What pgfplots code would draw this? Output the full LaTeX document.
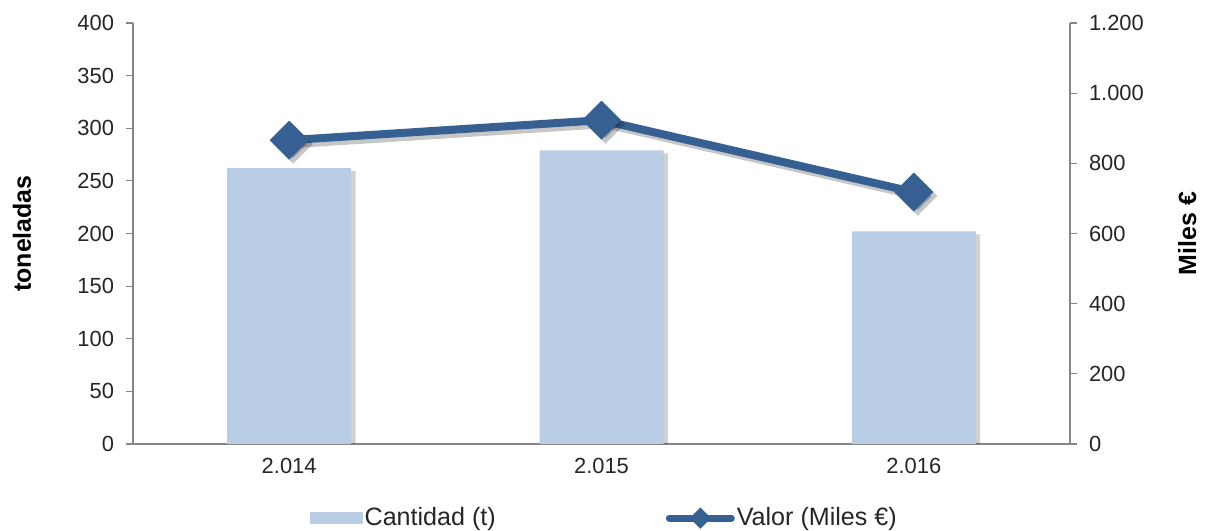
\documentclass[border=0pt]{standalone}
\usepackage{fontspec}
\setmainfont{Liberation Sans}
\usepackage{pgfplots}
\pgfplotsset{compat=1.18}
\definecolor{barcol}{HTML}{B9CDE5}
\definecolor{linecol}{HTML}{376092}
\definecolor{axcol}{HTML}{868686}
\definecolor{txtcol}{HTML}{262626}
\begin{document}
\begin{tikzpicture}
\pgfplotsset{
  base/.style={
    scale only axis, width=468.5bp, height=210.5bp,
    at={(0,0)}, anchor=south west,
    xmin=-0.5, xmax=2.5,
    axis line style={axcol, line width=0.6bp},
    tick style={axcol, line width=0.6bp},
    major tick length=3.5bp,
    tick label style={font=\fontsize{11}{13}\selectfont, text=txtcol},
    yticklabel style={inner xsep=5.8bp},
    /pgf/number format/assume math mode=true,
    /pgf/number format/1000 sep={.},
    clip=true,
  }
}
\begin{axis}[base,
  axis y line*=left, axis x line*=bottom,
  ymin=0, ymax=400, ytick={0,50,...,400},
  xtick={0,1,2}, xticklabels={2.014,2.015,2.016},
  x tick style={draw=none},
  minor xtick={-0.5,0.5,1.5,2.5},
  minor tick length=3.5bp,
  xtick pos=bottom, ytick pos=left,
  tick align=outside,
  every axis y label/.style={at={(axis description cs:-0.1185,0.5)}, anchor=center, rotate=90},
  ylabel={\fontsize{12.5}{14}\selectfont\bfseries toneladas},
  ylabel style={text=black},
]
\addplot[ybar, bar width=62bp, draw=none, fill=black, opacity=0.18, xshift=2.2bp, yshift=-1.5bp] coordinates {(0,262) (1,279) (2,202)};
\addplot[ybar, bar width=62bp, draw=none, fill=barcol] coordinates {(0,262) (1,279) (2,202)};
\end{axis}
\begin{axis}[base,
  axis y line*=right, axis x line=none,
  ymin=0, ymax=1200, ytick={0,200,...,1200},
  ytick pos=right, tick align=outside,
  every axis y label/.style={at={(axis description cs:1.125,0.5)}, anchor=center, rotate=90},
  ylabel={\fontsize{12.5}{14}\selectfont\bfseries Miles €},
  legend columns=2,
  legend style={at={(0.503,-0.176)}, anchor=center, draw=none, fill=none,
    font=\fontsize{12.6}{14}\selectfont, text=txtcol,
    nodes={inner xsep=1bp, inner ysep=1bp},
    /tikz/every even column/.append style={column sep=84bp}},
]
\addlegendimage{legend image code/.code={\fill[barcol] (0bp,-2.75bp) rectangle (26bp,2.75bp);}}
\addlegendentry{Cantidad (t)}
\addplot[black, opacity=0.22, line width=4bp, mark=square*, mark size=4.9bp, mark options={rotate=45}, xshift=2bp, yshift=-2bp, forget plot] coordinates {(0,866) (1,923) (2,718)};
\addplot[linecol, line width=4bp, mark=square*, mark size=4.9bp, mark options={rotate=45},
  legend image code/.code={\draw[linecol, line width=3.5bp, line cap=round] (0bp,0bp) -- (31bp,0bp);
  \fill[linecol] (13bp,0bp) -- (15.5bp,2.5bp) -- (18bp,0bp) -- (15.5bp,-2.5bp) -- cycle;}] coordinates {(0,866) (1,923) (2,718)};
\addlegendentry{Valor (Miles €)}
\end{axis}
\pgfresetboundingbox
\path (-66.5bp,-43.5bp) rectangle (536bp,222bp);
\end{tikzpicture}
\end{document}
